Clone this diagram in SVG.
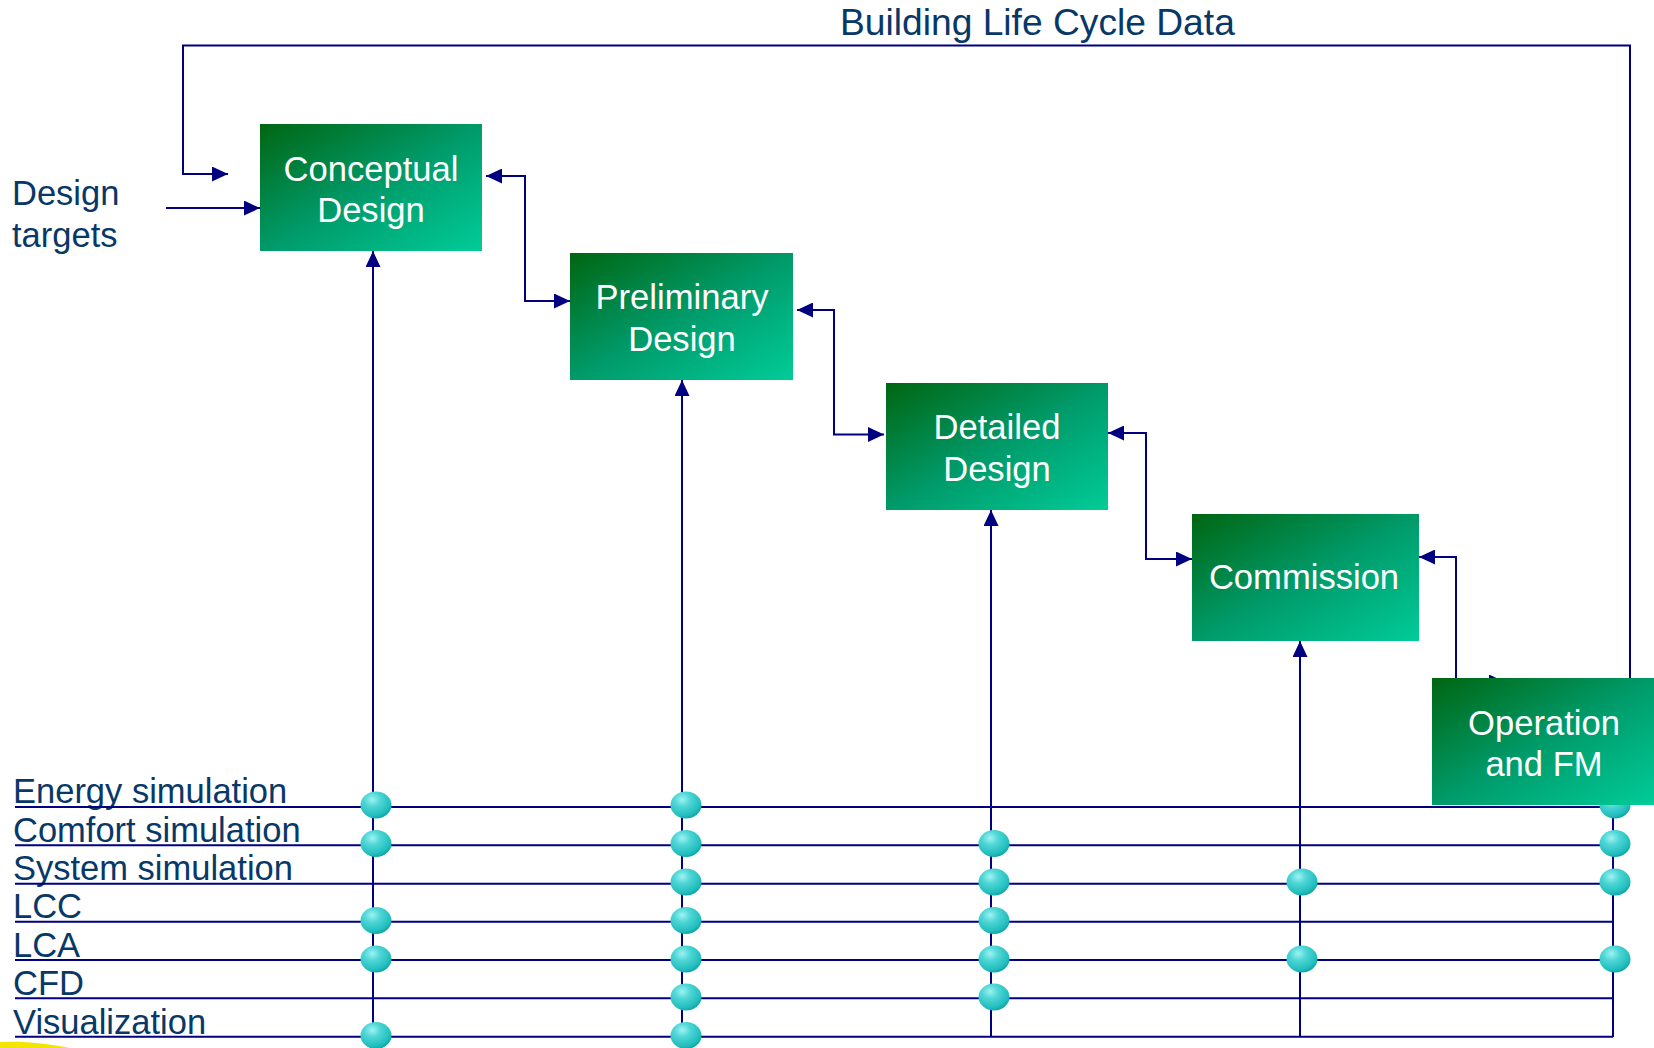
<svg xmlns="http://www.w3.org/2000/svg" width="1654" height="1048" viewBox="0 0 1654 1048">
<style>
.t{font-family:"Liberation Sans",Arial,sans-serif;fill:#083868}
.lbl{font-size:34.5px}
.bt{font-family:"Liberation Sans",Arial,sans-serif;font-size:34.6px;fill:#ffffff;text-anchor:middle}
.c{fill:none;stroke:#000080;stroke-width:2}
.a{marker-end:url(#ah)}
.b{marker-start:url(#ahs);marker-end:url(#ah)}
.box{fill:url(#g)}
.dot{fill:url(#dg)}
</style>
<defs>
<linearGradient id="g" x1="0" y1="0" x2="1" y2="1">
<stop offset="0" stop-color="#006612"/>
<stop offset="0.5" stop-color="#009a69"/>
<stop offset="1" stop-color="#00cc99"/>
</linearGradient>
<radialGradient id="dg" cx="0.38" cy="0.3" r="0.75">
<stop offset="0" stop-color="#9ff2f2"/>
<stop offset="0.35" stop-color="#4fd6d6"/>
<stop offset="0.8" stop-color="#22bdbd"/>
<stop offset="1" stop-color="#07a0a0"/>
</radialGradient>
<marker id="ah" markerUnits="userSpaceOnUse" markerWidth="16" markerHeight="15" refX="16" refY="7.5" orient="auto">
<path d="M0,0 L16,7.5 L0,15 z" fill="#000080"/>
</marker>
<marker id="ahs" markerUnits="userSpaceOnUse" markerWidth="16" markerHeight="15" refX="16" refY="7.5" orient="auto-start-reverse">
<path d="M0,0 L16,7.5 L0,15 z" fill="#000080"/>
</marker>
</defs>
<rect width="1654" height="1048" fill="#ffffff"/>
<path d="M0,1042 C25,1041 50,1044 70,1048 L0,1048 Z" fill="#f2e600"/>
<text class="t" x="840" y="35" font-size="37.2">Building Life Cycle Data</text>
<text class="t" x="12" y="205" font-size="34.5">Design</text>
<text class="t" x="12" y="247" font-size="34.5">targets</text>
<g class="t lbl">
<text x="13" y="803">Energy simulation</text>
<text x="13" y="841.5">Comfort simulation</text>
<text x="13" y="880">System simulation</text>
<text x="13" y="918">LCC</text>
<text x="13" y="956.5">LCA</text>
<text x="13" y="995">CFD</text>
<text x="13" y="1033.5">Visualization</text>
</g>
<g id="connectors">
<path class="c a" d="M1630,678 V45.5 H183 V174 H228"/>
<path class="c a" d="M166,208 H260"/>
<path class="c b" d="M486,176 H525 V301 H570"/>
<path class="c b" d="M797,310 H834 V434.5 H884"/>
<path class="c b" d="M1108,433 H1146 V559 H1192"/>
<path class="c b" d="M1419,557 H1456 V682 H1505"/>
<path class="c a" d="M373,1037 V251"/>
<path class="c a" d="M682,1037 V380"/>
<path class="c a" d="M991,1037 V510"/>
<path class="c a" d="M1300,1037 V641"/>
<path class="c" d="M1613,805 V1037"/>
<path class="c" d="M15,807 H1613 M15,845.3 H1613 M15,883.7 H1613 M15,921.7 H1613 M15,960 H1613 M15,998.3 H1613 M15,1036.7 H1613"/>
</g>
<g id="dots">
<ellipse class="dot" cx="376" cy="805" rx="15.5" ry="13.5"/>
<ellipse class="dot" cx="376" cy="843.5" rx="15.5" ry="13.5"/>
<ellipse class="dot" cx="376" cy="920.5" rx="15.5" ry="13.5"/>
<ellipse class="dot" cx="376" cy="959" rx="15.5" ry="13.5"/>
<ellipse class="dot" cx="376" cy="1035.5" rx="15.5" ry="13.5"/>
<ellipse class="dot" cx="686" cy="805" rx="15.5" ry="13.5"/>
<ellipse class="dot" cx="686" cy="843.5" rx="15.5" ry="13.5"/>
<ellipse class="dot" cx="686" cy="882" rx="15.5" ry="13.5"/>
<ellipse class="dot" cx="686" cy="920.5" rx="15.5" ry="13.5"/>
<ellipse class="dot" cx="686" cy="959" rx="15.5" ry="13.5"/>
<ellipse class="dot" cx="686" cy="997" rx="15.5" ry="13.5"/>
<ellipse class="dot" cx="686" cy="1035.5" rx="15.5" ry="13.5"/>
<ellipse class="dot" cx="994" cy="843.5" rx="15.5" ry="13.5"/>
<ellipse class="dot" cx="994" cy="882" rx="15.5" ry="13.5"/>
<ellipse class="dot" cx="994" cy="920.5" rx="15.5" ry="13.5"/>
<ellipse class="dot" cx="994" cy="959" rx="15.5" ry="13.5"/>
<ellipse class="dot" cx="994" cy="997" rx="15.5" ry="13.5"/>
<ellipse class="dot" cx="1302" cy="882" rx="15.5" ry="13.5"/>
<ellipse class="dot" cx="1302" cy="959" rx="15.5" ry="13.5"/>
<ellipse class="dot" cx="1615" cy="805" rx="15.5" ry="13.5"/>
<ellipse class="dot" cx="1615" cy="843.5" rx="15.5" ry="13.5"/>
<ellipse class="dot" cx="1615" cy="882" rx="15.5" ry="13.5"/>
<ellipse class="dot" cx="1615" cy="959" rx="15.5" ry="13.5"/>
</g>
<g id="conceptual">
<rect class="box" x="260" y="124" width="222" height="127"/>
<text class="bt" x="371" y="181">Conceptual</text>
<text class="bt" x="371" y="222">Design</text>
</g>
<g id="preliminary">
<rect class="box" x="570" y="253" width="223" height="127"/>
<text class="bt" x="682" y="309">Preliminary</text>
<text class="bt" x="682" y="351">Design</text>
</g>
<g id="detailed">
<rect class="box" x="886" y="383" width="222" height="127"/>
<text class="bt" x="997" y="439">Detailed</text>
<text class="bt" x="997" y="481">Design</text>
</g>
<g id="commission">
<rect class="box" x="1192" y="514" width="227" height="127"/>
<text class="bt" x="1304" y="589">Commission</text>
</g>
<g id="operation">
<rect class="box" x="1432" y="678" width="222" height="127"/>
<text class="bt" x="1544" y="735">Operation</text>
<text class="bt" x="1544" y="776">and FM</text>
</g>
</svg>
